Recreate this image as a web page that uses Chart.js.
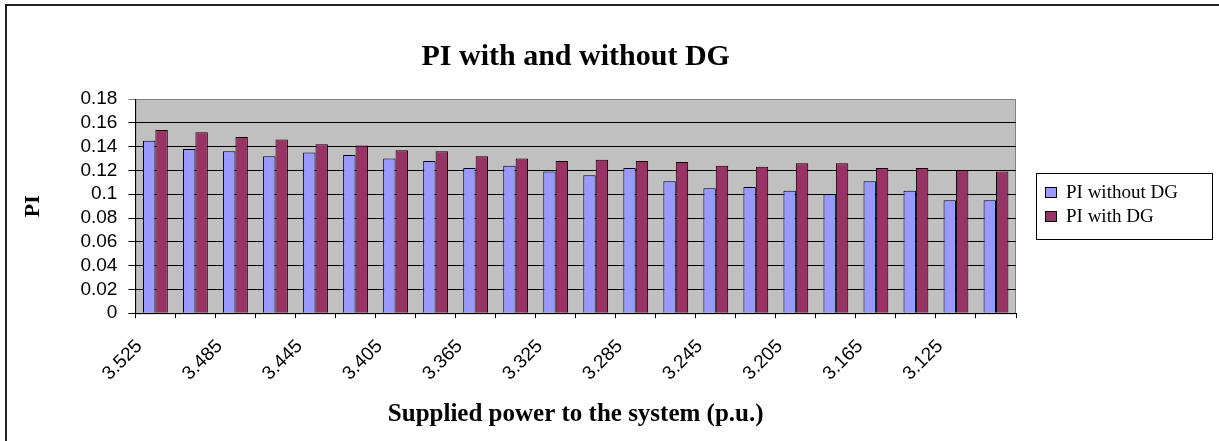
<!DOCTYPE html>
<html>
<head>
<meta charset="utf-8">
<title>PI with and without DG</title>
<script src="https://cdn.jsdelivr.net/npm/chart.js@4.4.0/dist/chart.umd.min.js"></script>
<style>
  html, body { margin: 0; padding: 0; background: #fff; }
  #wrap { width: 1219px; height: 441px; position: relative; }
</style>
</head>
<body>
<div id="wrap"><canvas id="piChart"></canvas></div>
<script>
// data
const categories = ["3.525", "3.505", "3.485", "3.465", "3.445", "3.425", "3.405", "3.385",
  "3.365", "3.345", "3.325", "3.305", "3.285", "3.265", "3.245", "3.225",
  "3.205", "3.185", "3.165", "3.145", "3.125", "3.105"];
const piWithoutDG = [0.145, 0.138, 0.136, 0.132, 0.135, 0.133, 0.130, 0.128, 0.122, 0.124, 0.119,
  0.116, 0.122, 0.111, 0.105, 0.106, 0.103, 0.100, 0.111, 0.103, 0.095, 0.095];
const piWithDG = [0.154, 0.152, 0.148, 0.146, 0.142, 0.141, 0.137, 0.136, 0.132, 0.130, 0.128,
  0.129, 0.128, 0.127, 0.124, 0.123, 0.126, 0.126, 0.122, 0.122, 0.120, 0.119];
const yTickLabels = ["0", "0.02", "0.04", "0.06", "0.08", "0.1", "0.12", "0.14", "0.16", "0.18"];

const serif = "'Liberation Serif', 'Times New Roman', serif";
const sans = "'Liberation Sans', Arial, sans-serif";

// gray plot background + gray frame, outer chart border
const plotBackground = {
  id: "plotBackground",
  beforeDraw(chart) {
    const { ctx, chartArea: a } = chart;
    ctx.save();
    ctx.fillStyle = "#fff";
    ctx.fillRect(0, 0, chart.width, chart.height);
    ctx.fillStyle = "#C0C0C0";
    ctx.fillRect(a.left, a.top, a.right - a.left, a.bottom - a.top);
    ctx.strokeStyle = "#808080";
    ctx.lineWidth = 1;
    ctx.strokeRect(a.left + 0.5, a.top + 0.5, a.right - a.left - 1, a.bottom - a.top);
    ctx.strokeStyle = "#222";
    ctx.lineWidth = 2;
    ctx.strokeRect(6, 5, chart.width + 20, chart.height + 20);
    ctx.restore();
  }
};

// boxed legend on the right, like the Excel one
const boxLegend = {
  id: "boxLegend",
  afterDraw(chart) {
    const { ctx } = chart;
    const x0 = 1036, y0 = 173, w = 176, h = 66;
    ctx.save();
    ctx.strokeStyle = "#000";
    ctx.lineWidth = 1;
    ctx.strokeRect(x0 + 0.5, y0 + 0.5, w, h);
    ctx.font = "19px " + serif;
    ctx.textBaseline = "middle";
    chart.data.datasets.forEach((ds, i) => {
      const cy = y0 + 19 + i * 24;
      ctx.fillStyle = ds.backgroundColor;
      ctx.fillRect(1045, cy - 5, 11, 10);
      ctx.strokeRect(1045.5, cy - 4.5, 11, 10);
      ctx.fillStyle = "#000";
      ctx.fillText(ds.label, 1066, cy + 1);
    });
    ctx.restore();
  }
};

const ctx = document.getElementById("piChart").getContext("2d");
const chart = new Chart(ctx, {
  type: "bar",
  data: {
    labels: categories,
    datasets: [
      {
        label: "PI without DG",
        data: piWithoutDG,
        backgroundColor: "#9999FF",
        borderColor: "#000",
        borderWidth: 1
      },
      {
        label: "PI with DG",
        data: piWithDG,
        backgroundColor: "#993366",
        borderColor: "#000",
        borderWidth: 1
      }
    ]
  },
  options: {
    responsive: true,
    maintainAspectRatio: false,
    animation: false,
    datasets: { bar: { barPercentage: 1.0, categoryPercentage: 0.62 } },
    layout: { padding: { left: 12, right: 203, top: 6, bottom: 2 } },
    plugins: {
      legend: { display: false },
      tooltip: { enabled: false },
      title: {
        display: true,
        text: "PI with and without DG",
        fullSize: false,
        color: "#000",
        font: { family: serif, size: 30, weight: "bold" },
        padding: { top: 33, bottom: 24 }
      }
    },
    scales: {
      x: {
        border: { color: "#000", width: 1 },
        grid: { offset: true, drawOnChartArea: false, color: "#000", tickLength: 5 },
        ticks: {
          autoSkip: false,
          maxRotation: 45,
          minRotation: 45,
          labelOffset: -16,
          padding: 17,
          color: "#000",
          font: { family: sans, size: 19 },
          callback: (v, i) => (i % 2 === 0 ? categories[i] : "")
        },
        title: {
          display: true,
          text: "Supplied power to the system (p.u.)",
          color: "#000",
          font: { family: serif, size: 25, weight: "bold", lineHeight: 1.0 },
          padding: { top: 0, bottom: 12 }
        }
      },
      y: {
        min: 0,
        max: 0.18,
        border: { color: "#000", width: 1 },
        grid: {
          color: (c) => (c.index === yTickLabels.length - 1 ? "#808080" : "#000"),
          tickLength: 7
        },
        ticks: {
          stepSize: 0.02,
          autoSkip: false,
          padding: 11,
          color: "#000",
          font: { family: sans, size: 19 },
          callback: (v, i) => yTickLabels[i]
        },
        title: {
          display: true,
          text: "PI",
          color: "#000",
          font: { family: serif, size: 22, weight: "bold" },
          padding: { top: 8, bottom: 23 }
        }
      }
    }
  },
  plugins: [plotBackground, boxLegend]
});
</script>
</body>
</html>
